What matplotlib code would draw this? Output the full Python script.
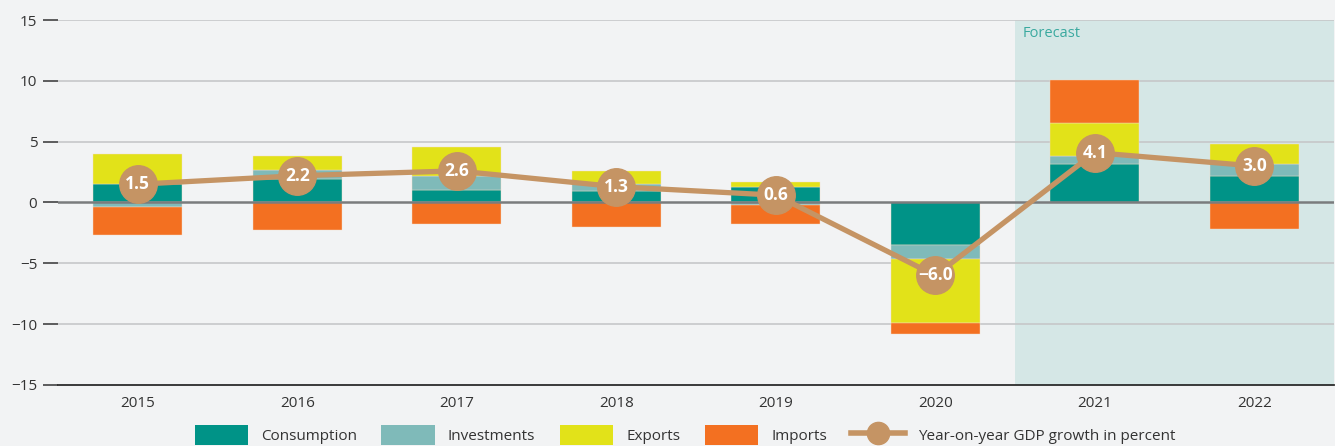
import numpy as np
import matplotlib
matplotlib.use("Agg")
import matplotlib.pyplot as plt
from matplotlib.patches import Patch
from matplotlib.lines import Line2D

# ============================================================
# DATA
# ============================================================

years = ["2015", "2016", "2017", "2018", "2019", "2020", "2021", "2022"]

consumption = [1.5, 1.9, 1.0, 0.95, 1.25, -3.5, 3.15, 2.2]
investments = [-0.4, 0.8, 1.2, 0.55, -0.2, -1.15, 0.7, 0.95]
exports = [2.5, 1.15, 2.4, 1.1, 0.45, -5.25, 2.65, 1.65]
imports = [-2.3, -2.3, -1.75, -2.0, -1.55, -0.95, 3.55, -2.15]

gdp_growth = [1.5, 2.2, 2.6, 1.3, 0.6, -6.0, 4.1, 3.0]

series_names = ["Consumption", "Investments", "Exports", "Imports"]
colors = ["#009387", "#7fbab9", "#e2e219", "#f37021"]
line_color = "#c59464"
bg = "#f2f3f4"

# ============================================================
# FIGURE
# ============================================================

plt.rcParams["font.family"] = ["Open Sans", "DejaVu Sans"]

fig = plt.figure(figsize=(13.35, 4.46), dpi=100, facecolor=bg)
ax = fig.add_axes([0.0435, 0.137, 0.9558, 0.818])
ax.set_facecolor(bg)

x = np.arange(len(years))

# forecast area
ax.axvspan(5.5, 7.5, ymin=0, ymax=1, color="#d5e7e6", zorder=0, lw=0)
ax.text(5.55, 14.5, "Forecast", color="#3aa99f", fontsize=10.5,
        ha="left", va="top")

# gridlines
for yv in [-10, -5, 5, 10, 15]:
    ax.axhline(yv, color="#c6c7c9", lw=1.2, zorder=1)
ax.axhline(0, color="#7a7c7d", lw=1.8, zorder=3)

# stacked bars: positives stack up, negatives stack down
pos_base = np.zeros(len(years))
neg_base = np.zeros(len(years))
for vals, c in zip([consumption, investments, exports, imports], colors):
    vals = np.array(vals)
    base = np.where(vals >= 0, pos_base, neg_base)
    ax.bar(x, vals, bottom=base, width=0.56, color=c, zorder=2,
           edgecolor="#f6ddc8", linewidth=0.3)
    pos_base = pos_base + np.where(vals >= 0, vals, 0)
    neg_base = neg_base + np.where(vals < 0, vals, 0)

# GDP growth line
ax.plot(x, gdp_growth, color=line_color, lw=3.8, zorder=4,
        marker="o", markersize=27, markerfacecolor=line_color,
        markeredgecolor=line_color)
for xi, v in zip(x, gdp_growth):
    lbl = f"{v:.1f}".replace("-", "\u2212")
    ax.text(xi, v, lbl, color="white", fontsize=12.5, fontweight="bold",
            ha="center", va="center", zorder=5)

# axes styling
ax.set_xlim(-0.5, 7.5)
ax.set_ylim(-15, 15)
ax.set_yticks([-15, -10, -5, 0, 5, 10, 15])
ax.set_yticklabels(["\u221215", "\u221210", "\u22125", "0", "5", "10", "15"])
ax.set_xticks(x)
ax.set_xticklabels(years)

for s in ["top", "right", "left"]:
    ax.spines[s].set_visible(False)
ax.spines["bottom"].set_color("#2b2b2b")
ax.spines["bottom"].set_linewidth(1.3)

ax.tick_params(axis="y", length=11, width=1.1, color="#333333", pad=4,
               labelsize=11, labelcolor="#333333")
ax.tick_params(axis="x", length=0, pad=8, labelsize=11, labelcolor="#333333")

# ============================================================
# LEGEND
# ============================================================

handles = [Patch(facecolor=c, edgecolor="none") for c in colors]
handles.append(Line2D([0], [0], color=line_color, lw=4, marker="o",
                      markersize=16, markerfacecolor=line_color,
                      markeredgecolor=line_color))
labels = series_names + ["Year-on-year GDP growth in percent"]

fig.legend(handles, labels, loc="lower center", ncol=5,
           bbox_to_anchor=(0.513, -0.028), frameon=False, fontsize=11,
           handlelength=3.5, handleheight=1.6, columnspacing=1.6,
           handletextpad=0.85, labelcolor="#333333")

fig.savefig("out.png", dpi=100, facecolor=bg)
